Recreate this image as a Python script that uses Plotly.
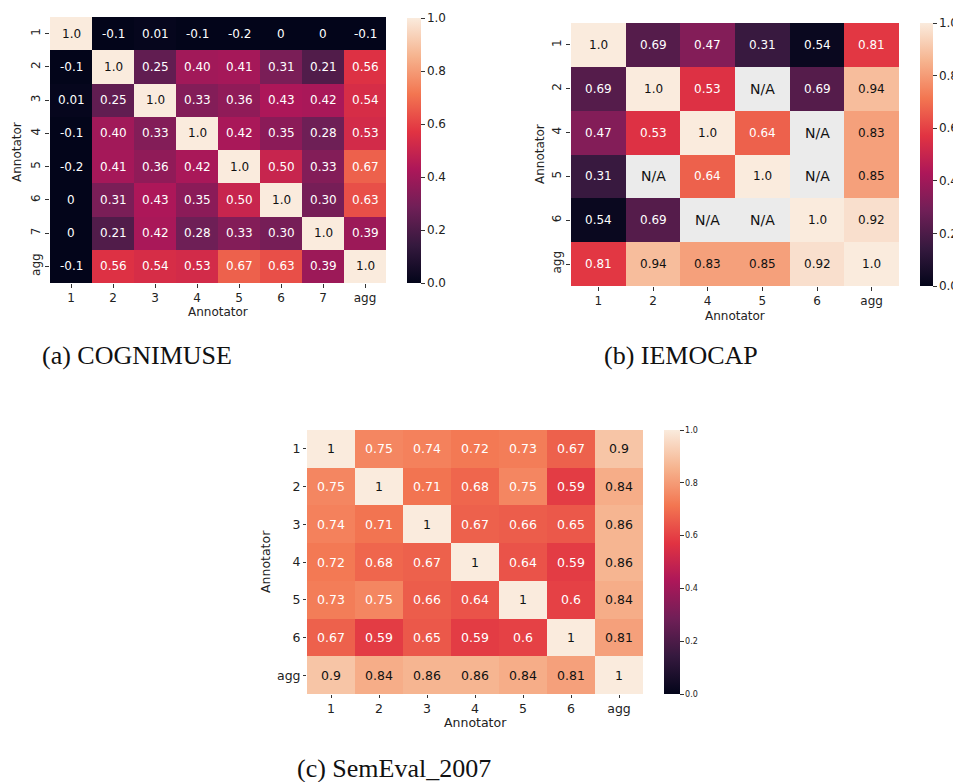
import plotly.graph_objects as go

# ---------------- data ----------------
cog_labels = ["1", "2", "3", "4", "5", "6", "7", "agg"]
cog_text = [
    ["1.0", "-0.1", "0.01", "-0.1", "-0.2", "0", "0", "-0.1"],
    ["-0.1", "1.0", "0.25", "0.40", "0.41", "0.31", "0.21", "0.56"],
    ["0.01", "0.25", "1.0", "0.33", "0.36", "0.43", "0.42", "0.54"],
    ["-0.1", "0.40", "0.33", "1.0", "0.42", "0.35", "0.28", "0.53"],
    ["-0.2", "0.41", "0.36", "0.42", "1.0", "0.50", "0.33", "0.67"],
    ["0", "0.31", "0.43", "0.35", "0.50", "1.0", "0.30", "0.63"],
    ["0", "0.21", "0.42", "0.28", "0.33", "0.30", "1.0", "0.39"],
    ["-0.1", "0.56", "0.54", "0.53", "0.67", "0.63", "0.39", "1.0"],
]

iemo_labels = ["1", "2", "4", "5", "6", "agg"]
iemo_text = [
    ["1.0", "0.69", "0.47", "0.31", "0.54", "0.81"],
    ["0.69", "1.0", "0.53", "N/A", "0.69", "0.94"],
    ["0.47", "0.53", "1.0", "0.64", "N/A", "0.83"],
    ["0.31", "N/A", "0.64", "1.0", "N/A", "0.85"],
    ["0.54", "0.69", "N/A", "N/A", "1.0", "0.92"],
    ["0.81", "0.94", "0.83", "0.85", "0.92", "1.0"],
]
# colour values as shown in the picture (cell shading differs from the printed numbers)
iemo_color = [
    [1.0, 0.22, 0.33, 0.15, 0.02, 0.58],
    [0.22, 1.0, 0.56, None, 0.22, 0.88],
    [0.33, 0.56, 1.0, 0.67, None, 0.81],
    [0.15, None, 0.67, 1.0, None, 0.81],
    [0.02, 0.22, None, None, 1.0, 0.97],
    [0.58, 0.88, 0.81, 0.81, 0.97, 1.0],
]

sem_labels = ["1", "2", "3", "4", "5", "6", "agg"]
sem_text = [
    ["1", "0.75", "0.74", "0.72", "0.73", "0.67", "0.9"],
    ["0.75", "1", "0.71", "0.68", "0.75", "0.59", "0.84"],
    ["0.74", "0.71", "1", "0.67", "0.66", "0.65", "0.86"],
    ["0.72", "0.68", "0.67", "1", "0.64", "0.59", "0.86"],
    ["0.73", "0.75", "0.66", "0.64", "1", "0.6", "0.84"],
    ["0.67", "0.59", "0.65", "0.59", "0.6", "1", "0.81"],
    ["0.9", "0.84", "0.86", "0.86", "0.84", "0.81", "1"],
]

cbar_ticks = [0, 0.2, 0.4, 0.6, 0.8, 1.0]
cbar_ticktext = ["0.0", "0.2", "0.4", "0.6", "0.8", "1.0"]
captions = ["(a) COGNIMUSE", "(b) IEMOCAP", "(c) SemEval_2007"]

# ---------------- styling ----------------
OFF = 8                      # page body margin
W, H = 961 - OFF, 782 - OFF
rocket = [
    [0.0, "#03051a"], [0.143, "#35193e"], [0.286, "#701f57"], [0.429, "#ad1759"],
    [0.571, "#e13342"], [0.714, "#f37651"], [0.857, "#f6b48f"], [1.0, "#faebdd"],
]
FONT = "DejaVu Sans"


def px_x(x):
    return (x - OFF) / W


def px_y(y):
    return 1 - (y - OFF) / H


fig = go.Figure()
annotations = []


def add_panel(idx, labels, text, color, fs, na_fs=None):
    xa = "x" if idx == 1 else f"x{idx}"
    ya = "y" if idx == 1 else f"y{idx}"
    z = []
    for r, row in enumerate(text):
        zr = []
        for c, t in enumerate(row):
            if color is not None:
                zr.append(color[r][c])
            else:
                zr.append(None if t == "N/A" else float(t))
        z.append(zr)
    fig.add_trace(go.Heatmap(
        x=labels, y=labels, z=z, xaxis=xa, yaxis=ya,
        coloraxis="coloraxis" if idx == 1 else f"coloraxis{idx}",
        hoverinfo="skip",
    ))
    na = [[1 if t == "N/A" else None for t in row] for row in text]
    if any(v is not None for row in na for v in row):
        fig.add_trace(go.Heatmap(
            x=labels, y=labels, z=na, xaxis=xa, yaxis=ya,
            colorscale=[[0, "#ebebeb"], [1, "#ebebeb"]], showscale=False,
            hoverinfo="skip",
        ))
    for r, row in enumerate(text):
        for c, t in enumerate(row):
            v = z[r][c]
            if t == "N/A":
                col, size = "#111111", na_fs or fs
            else:
                col = "#111111" if (v is not None and v > 0.77) else "#ffffff"
                size = fs
            annotations.append(dict(
                x=c, y=r, xref=xa, yref=ya, text=t,
                showarrow=False, font=dict(family=FONT, size=size, color=col),
            ))


add_panel(1, cog_labels, cog_text, None, 12)
add_panel(2, iemo_labels, iemo_text, iemo_color, 12, na_fs=14)
add_panel(3, sem_labels, sem_text, None, 12.5)

# domains (pixel boxes)
boxes = {
    1: (50, 386, 17, 283),
    2: (571, 899, 23, 286),
    3: (307, 643, 430, 694),
}
layout = dict(
    width=W, height=H, margin=dict(l=0, r=0, t=0, b=0),
    paper_bgcolor="white", plot_bgcolor="white", showlegend=False,
)
tick_fs = {1: 12, 2: 12, 3: 12.5}
tick_len = {1: 4, 2: 4, 3: 3}
ytick_angle = {1: -90, 2: -90, 3: 0}
for i, (x0, x1, y0, y1) in boxes.items():
    sfx = "" if i == 1 else str(i)
    layout["xaxis" + sfx] = dict(
        domain=[px_x(x0), px_x(x1)], anchor="y" + sfx, type="category",
        ticks="outside", ticklen=tick_len[i], tickcolor="#333", showgrid=False,
        zeroline=False, showline=False,
        tickfont=dict(family=FONT, size=tick_fs[i], color="#222"),
    )
    layout["yaxis" + sfx] = dict(
        domain=[px_y(y1), px_y(y0)], anchor="x" + sfx, type="category",
        autorange="reversed", ticks="outside", ticklen=tick_len[i], tickcolor="#333",
        showgrid=False, zeroline=False, showline=False,
        tickangle=ytick_angle[i],
        tickfont=dict(family=FONT, size=tick_fs[i], color="#222"),
    )

cbars = {
    1: dict(x=407, th=14, y0=18, y1=283, fs=12),
    2: dict(x=920, th=13, y0=23, y1=286, fs=12),
    3: dict(x=664, th=16, y0=430, y1=694, fs=8),
}
for i, cb in cbars.items():
    key = "coloraxis" if i == 1 else f"coloraxis{i}"
    layout[key] = dict(
        colorscale=rocket, cmin=0, cmax=1,
        colorbar=dict(
            x=px_x(cb["x"]), xanchor="left", thickness=cb["th"],
            len=(cb["y1"] - cb["y0"]) / H, lenmode="fraction",
            y=px_y(cb["y0"]), yanchor="top", outlinewidth=0,
            xpad=0, ypad=0, ticks="outside", ticklen=4, tickcolor="#333",
            tickvals=cbar_ticks, ticktext=cbar_ticktext,
            tickfont=dict(family=FONT, size=cb["fs"], color="#222"),
        ),
    )

# axis titles
titles = [
    (218, 312, 0, 12), (17, 152, -90, 12),
    (735, 316, 0, 12), (540, 154, -90, 12),
    (475, 722, 0, 12.5), (265, 562, -90, 12.5),
]
for (x, y, ang, fs) in titles:
    annotations.append(dict(
        x=px_x(x), y=px_y(y), xref="paper", yref="paper", text="Annotator",
        showarrow=False, textangle=ang, xanchor="center", yanchor="middle",
        font=dict(family=FONT, size=fs, color="#222"),
    ))

# captions
cap_pos = [(137, 355), (681, 355), (394, 768)]
for (x, y), t in zip(cap_pos, captions):
    annotations.append(dict(
        x=px_x(x), y=px_y(y), xref="paper", yref="paper", text=t,
        showarrow=False, xanchor="center", yanchor="middle",
        font=dict(family="Liberation Serif", size=26, color="#111"),
    ))

layout["annotations"] = annotations
fig.update_layout(**layout)
fig.write_html("out.html")
